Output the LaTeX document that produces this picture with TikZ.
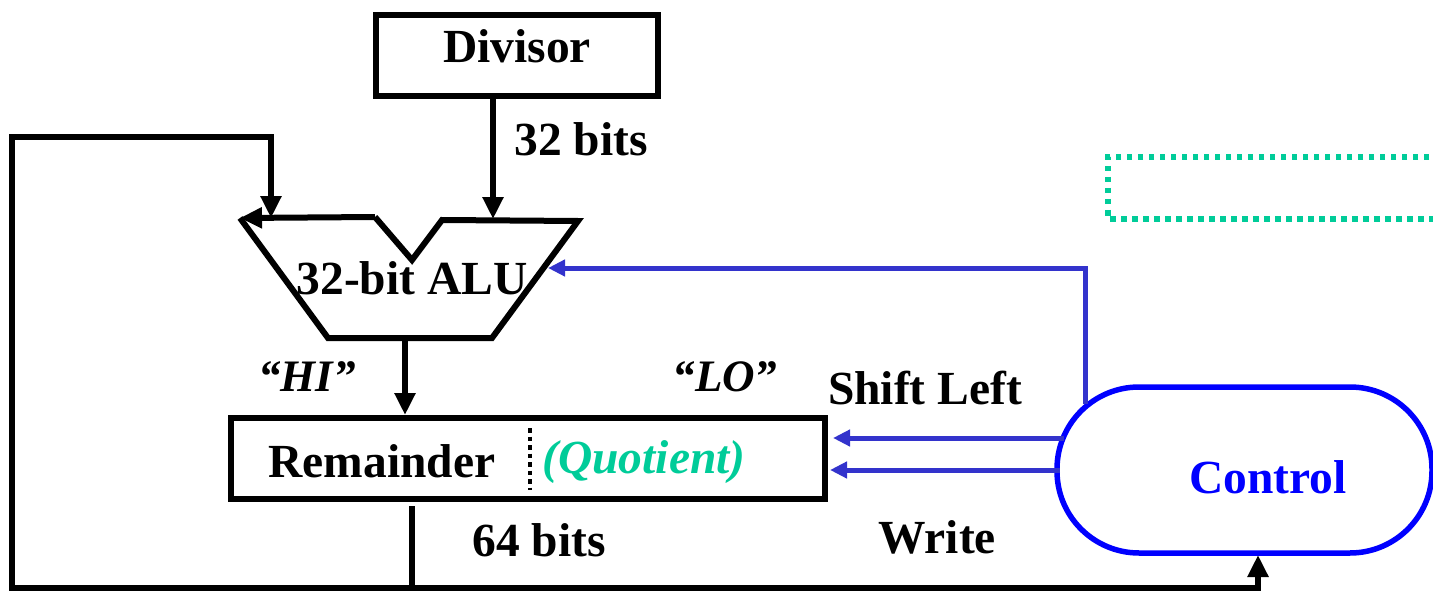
\documentclass[tikz,border=0pt]{standalone}
\usepackage{fontspec}
\setmainfont{Liberation Serif}
\usetikzlibrary{arrows.meta}
\definecolor{ctlblue}{RGB}{0,0,255}
\definecolor{sigblue}{RGB}{51,51,204}
\definecolor{qgreen}{RGB}{0,204,153}
\tikzset{
  blk/.style={line width=6pt, draw=black},
  box/.style={blk, minimum height=81pt, inner sep=0pt},
  lbl/.style={font=\fontsize{47.5}{55}\selectfont\bfseries, inner sep=0pt},
  ilbl/.style={font=\fontsize{45}{52}\selectfont\bfseries\itshape, inner sep=0pt},
  barr/.style={blk, -{Triangle[length=22pt,width=20pt]}},
  sarr/.style={line width=5pt, draw=sigblue, -{Triangle[length=17pt,width=16pt]}},
}
\begin{document}
\begin{tikzpicture}[x=1pt,y=-1pt]
\useasboundingbox (0,0) rectangle (1433,591);
\clip (0,0) rectangle (1433,591);
% Divisor
\node[box, minimum width=282pt, anchor=north west] (div) at (373,12) {};
\node[lbl] (divt) at (517,46) {Divisor};
% ALU shape
\coordinate (aTL) at (240,218);
\coordinate (aTLi) at (375,217);
\coordinate (aN) at (412,260);
\coordinate (aTRi) at (442,220);
\coordinate (aTR) at (578,221);
\coordinate (aBR) at (492,338);
\coordinate (aBL) at (328,338);
\draw[blk, line join=miter] (aTLi) -- (aN) -- (aTRi) -- (aTR) -- (aBR) -- (aBL) -- (aTL);
\draw[barr] (aTLi) -- (aTL);
\node[lbl] (alut) at (412,278) {32-bit ALU};
\coordinate (aluin1) at (271,218);
\coordinate (aluin2) at (493,219);
\coordinate (aluout) at (405,338);
\coordinate (aluctl) at (548,268);
% Remainder
\node[box, minimum width=594pt, anchor=north west] (rem) at (228,415) {};
\node[lbl] (remt) at (382,461) {Remainder};
\node[ilbl, text=qgreen, font=\fontsize{47.5}{55}\selectfont\bfseries\itshape] (quot) at (644,462) {(Quotient)};
\coordinate (dtop) at (530,428);
\coordinate (dbot) at (530,490);
\draw[line width=4.5pt, dash pattern=on 4.5pt off 4pt] (dtop) -- (dbot);
% labels
\node[lbl] (b32) at (581,139) {32 bits};
\node[ilbl] (hi) at (307,377) {“HI”};
\node[ilbl] (lo) at (725,377) {“LO”};
\node[lbl] (shl) at (925,388) {Shift Left};
\node[lbl] (b64) at (539,540) {64 bits};
\node[lbl] (wr) at (937,537) {Write};
% Control
\draw[line width=5.5pt, draw=ctlblue, rounded corners=82pt] (1057,387) rectangle (1432,553);
\node[lbl, text=ctlblue] (ctl) at (1268,477) {Control};
\coordinate (cUp) at (1085,404);
\coordinate (cS1) at (1064,438);
\coordinate (cS2) at (1060,470);
\coordinate (cBot) at (1258,555);
% green dotted box
\draw[line width=5.5pt, draw=qgreen, dash pattern=on 5.5pt off 5.5pt] (1440,157) -- (1108,157) -- (1108,219) -- (1440,219);
% connectors
\draw[barr] (div.south -| aluin2) -- (aluin2);
\draw[barr] (aluout) -- (rem.north -| aluout);
\coordinate (fb0) at (412,506);
\draw[blk, line join=miter] (fb0) -- (412,588);
\draw[barr, line join=miter] (1258,588) -- (12,588) -- (12,137) -- (271,137) -- (aluin1);
\draw[barr] (1258,591) -- (cBot);
\draw[sarr, line join=miter] (cUp) -- (1085,268) -- (aluctl);
\draw[sarr] (cS1) -- (833,438);
\draw[sarr] (cS2) -- (830,470);
\end{tikzpicture}
\end{document}
